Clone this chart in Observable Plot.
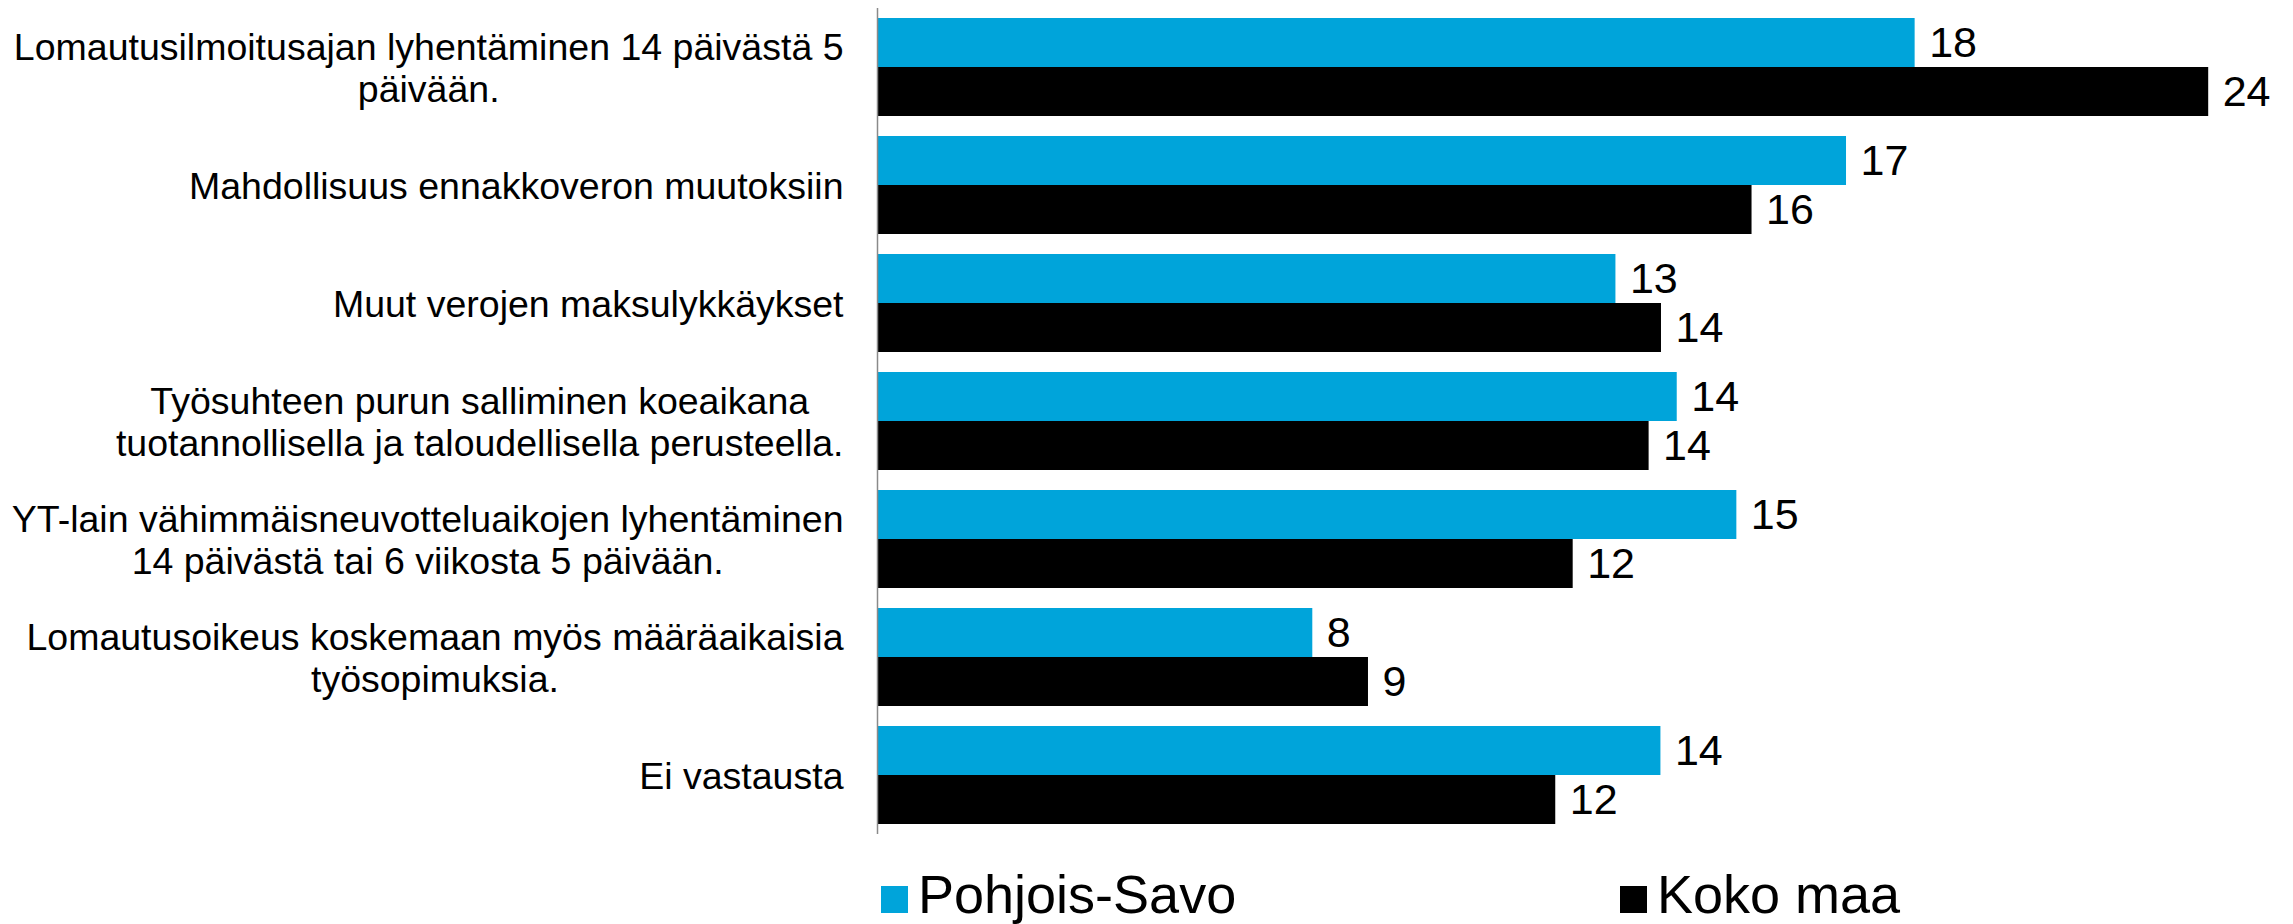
<!DOCTYPE html>
<html>
<head>
<meta charset="utf-8">
<script src="https://cdn.jsdelivr.net/npm/d3@7"></script>
<script src="https://cdn.jsdelivr.net/npm/@observablehq/plot@0.6"></script>
<style>
  html, body { margin: 0; padding: 0; background: #fff; }
  #chart svg { display: block; }
  .legend { display: flex; margin-top: 13px; padding-left: 881px; font-family: "Liberation Sans", Arial, sans-serif; font-size: 54px; line-height: 62px; color: #000; white-space: nowrap; }
  .legend .item { display: flex; align-items: flex-start; width: 739px; flex: none; }
  .legend .sw { width: 27px; height: 27px; margin-top: 23px; margin-right: 10px; flex: none; }
</style>
</head>
<body>
<div id="chart"></div>
<script>
const categories = [
  "Lomautusilmoitusajan lyhentäminen 14 päivästä 5\npäivään.",
  "Mahdollisuus ennakkoveron muutoksiin",
  "Muut verojen maksulykkäykset",
  "Työsuhteen purun salliminen koeaikana\ntuotannollisella ja taloudellisella perusteella.",
  "YT-lain vähimmäisneuvotteluaikojen lyhentäminen\n14 päivästä tai 6 viikosta 5 päivään.",
  "Lomautusoikeus koskemaan myös määräaikaisia\ntyösopimuksia.",
  "Ei vastausta"
];
const series = ["Pohjois-Savo", "Koko maa"];
const pohjoisSavo = [18.45, 17.23, 13.13, 14.22, 15.28, 7.74, 13.93];
const kokoMaa = [23.67, 15.55, 13.94, 13.72, 12.37, 8.73, 12.06];
const colors = ["#00a4da", "#000000"];

const data = categories.flatMap((c, i) => [
  {category: c, series: series[0], value: pohjoisSavo[i]},
  {category: c, series: series[1], value: kokoMaa[i]}
]);

const labelFont = 37.5;
const ctx = document.createElement("canvas").getContext("2d");
ctx.font = `${labelFont}px "Liberation Sans"`;
const blockWidth = (s) => Math.max(...s.split("\n").map(l => ctx.measureText(l).width));

const chart = Plot.plot({
  width: 2293,
  height: 850,
  marginLeft: 877,
  marginRight: 10,
  marginTop: 7,
  marginBottom: 16,
  style: {fontFamily: "'Liberation Sans', Arial, sans-serif", background: "#fff", color: "#000"},
  x: {domain: [0, 25], axis: null},
  y: {domain: series, axis: null, paddingInner: 0, paddingOuter: 0.198},
  fy: {domain: categories, axis: null, padding: 0},
  color: {domain: series, range: colors},
  marks: [
    Plot.barX(data, {x: "value", y: "series", fy: "category", fill: "series"}),
    Plot.text(data, {
      x: "value", y: "series", fy: "category",
      text: d => String(Math.round(d.value)),
      textAnchor: "start", dx: 14, fontSize: 43, fill: "#000"
    }),
    ...categories.map(c => Plot.text([c], {
      fy: d => d, text: d => d,
      frameAnchor: "left", textAnchor: "middle",
      dx: -34 - blockWidth(c) / 2,
      fontSize: labelFont, lineHeight: 1.13, fill: "#000"
    })),
    Plot.ruleX([0], {stroke: "#8a8a8a", strokeWidth: 1.5})
  ]
});
document.getElementById("chart").appendChild(chart);

const legend = document.createElement("div");
legend.className = "legend";
series.forEach((s, i) => {
  const item = document.createElement("div");
  item.className = "item";
  const sw = document.createElement("span");
  sw.className = "sw";
  sw.style.background = colors[i];
  const t = document.createElement("span");
  t.textContent = s;
  item.appendChild(sw);
  item.appendChild(t);
  legend.appendChild(item);
});
document.getElementById("chart").appendChild(legend);
</script>
</body>
</html>
